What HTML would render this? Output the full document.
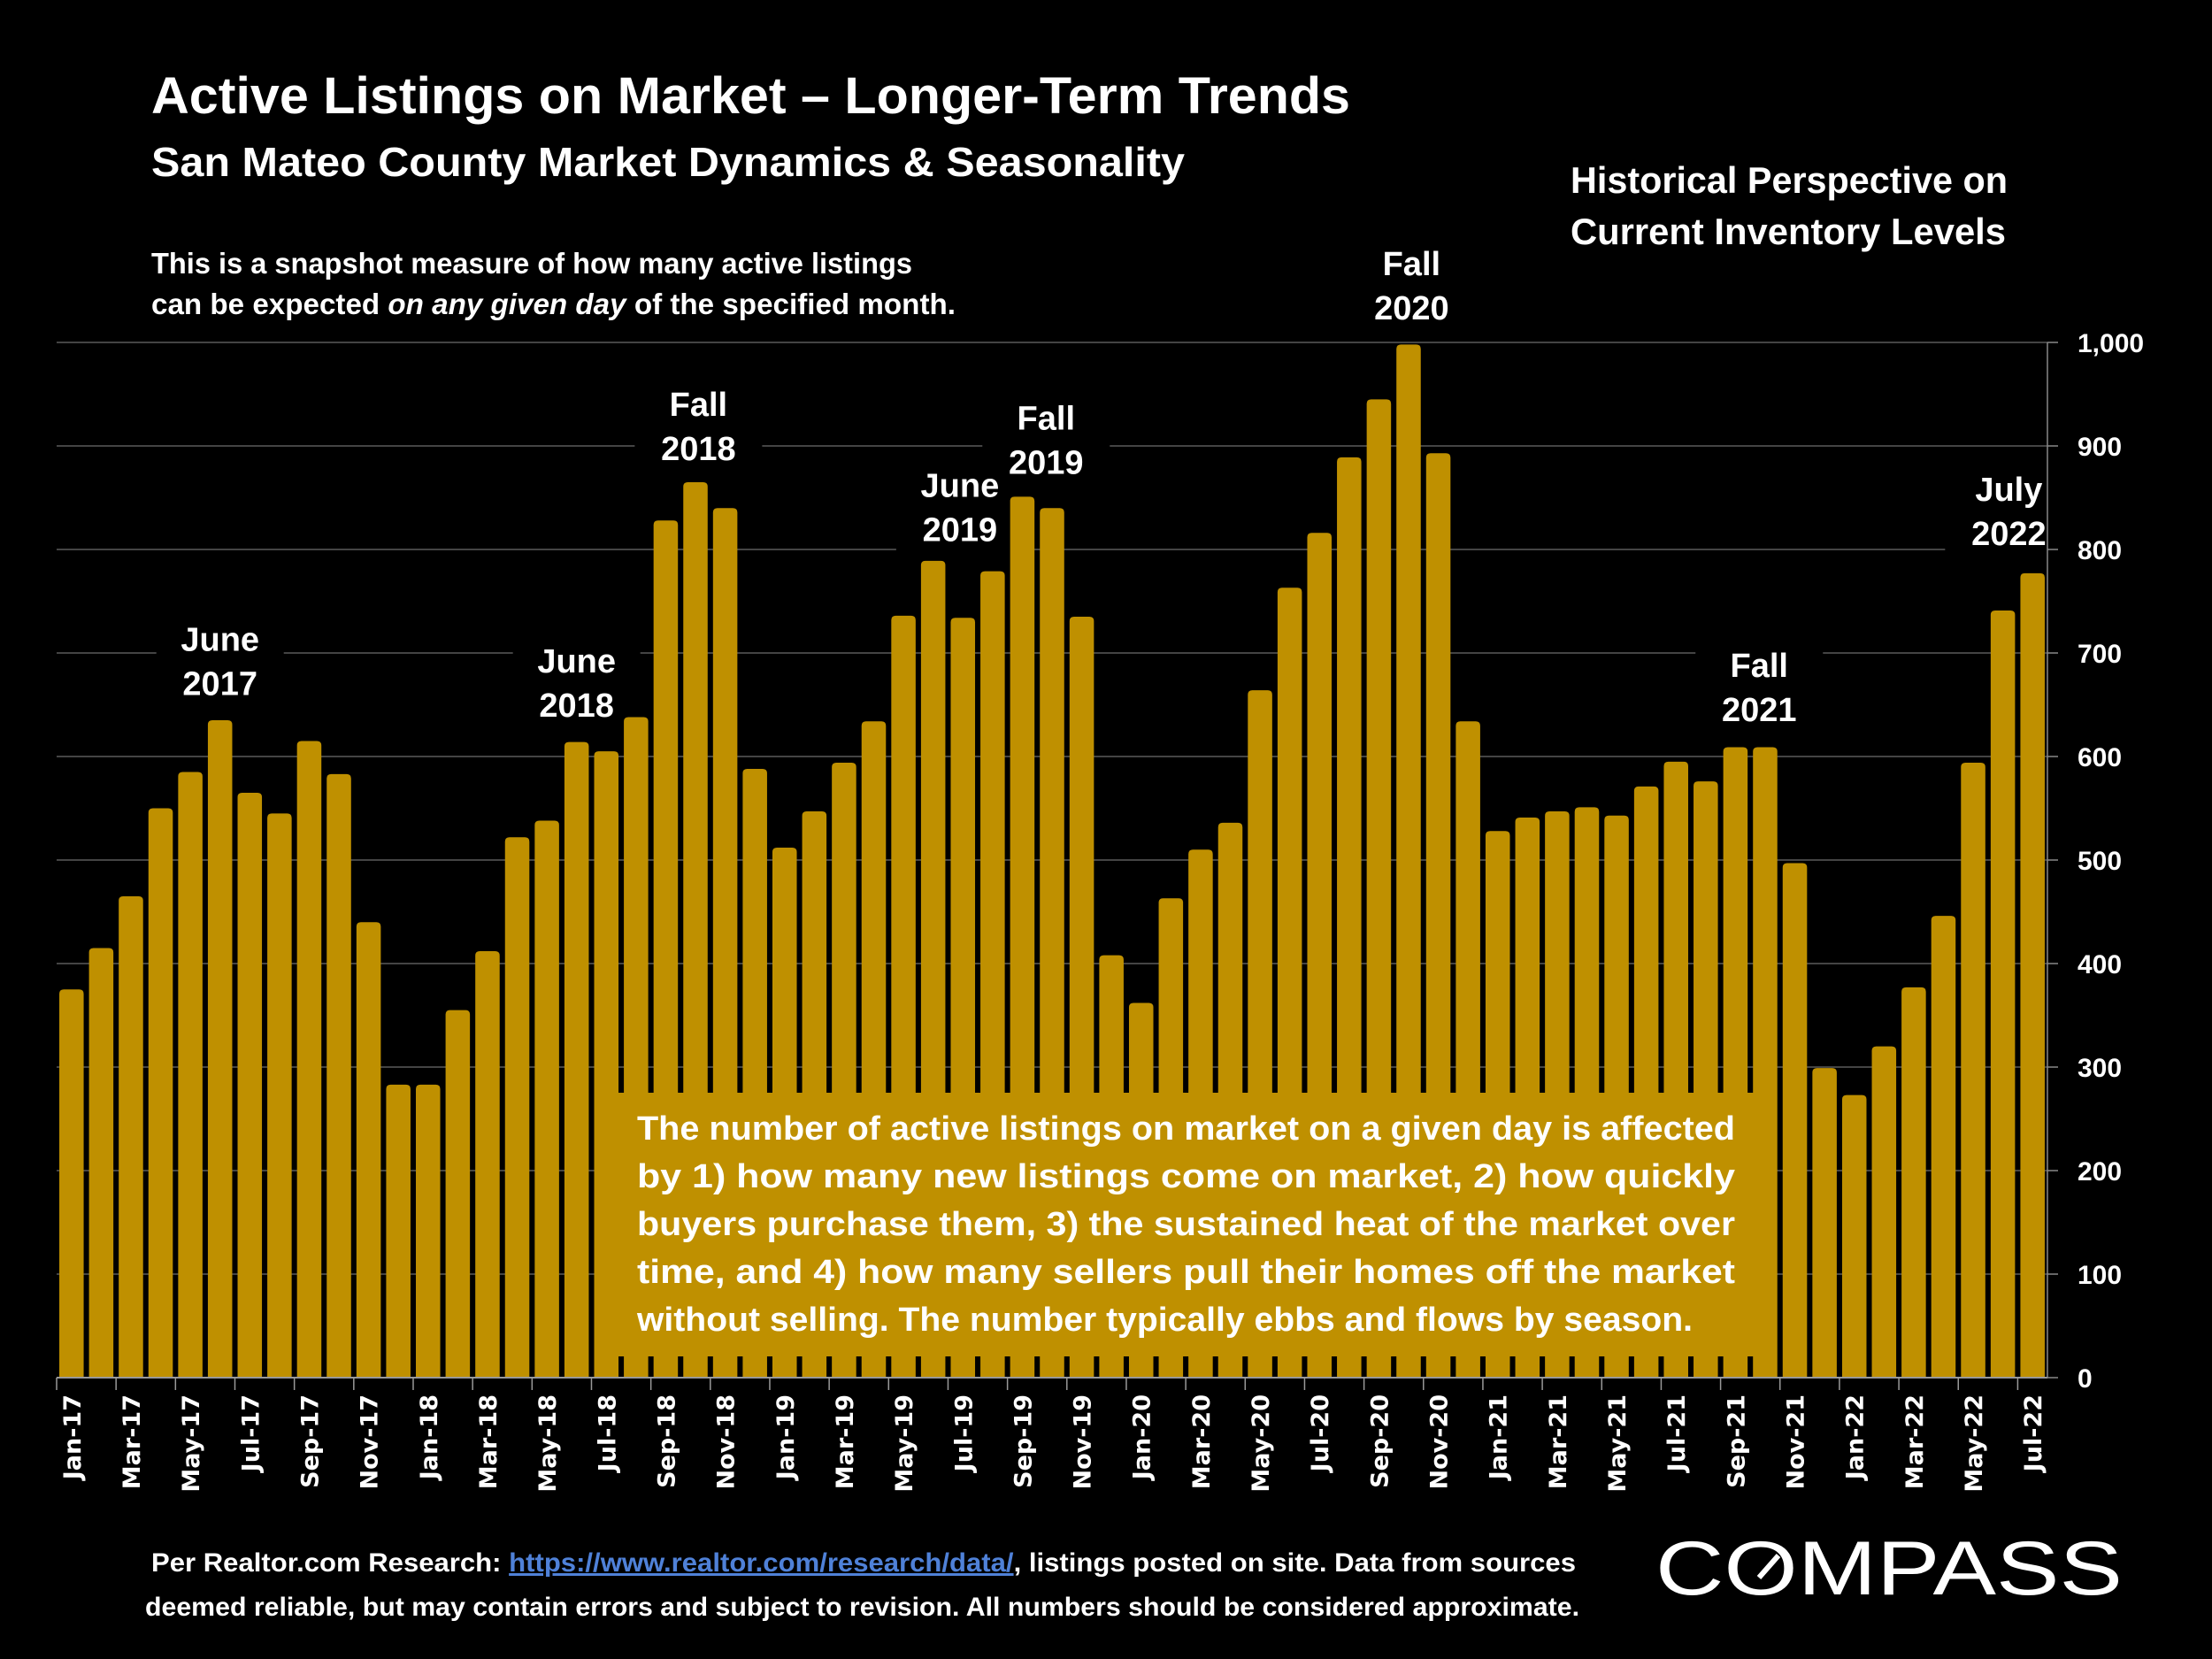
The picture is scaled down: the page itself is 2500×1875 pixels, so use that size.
<!DOCTYPE html>
<html><head><meta charset="utf-8"><style>
html,body{margin:0;padding:0;background:#000;}
svg{display:block;}
text{font-family:"Liberation Sans",sans-serif;fill:#fff;font-weight:bold;}
</style></head><body>
<svg id="chart" width="2500" height="1875" viewBox="0 0 2500 1875" xmlns="http://www.w3.org/2000/svg">
<rect width="2500" height="1875" fill="#000"/>
<g id="grid"></g>
<g id="annobg"></g>
<g id="annos"></g>
<g id="bars"></g>
<g id="axes"></g>

<text x="171" y="128" font-size="58" textLength="1355" lengthAdjust="spacingAndGlyphs">Active Listings on Market – Longer-Term Trends</text>
<text x="171" y="199" font-size="46" textLength="1168" lengthAdjust="spacingAndGlyphs">San Mateo County Market Dynamics &amp; Seasonality</text>
<text x="171" y="309" font-size="33" textLength="860" lengthAdjust="spacingAndGlyphs">This is a snapshot measure of how many active listings</text>
<text x="171" y="355" font-size="33" textLength="909" lengthAdjust="spacingAndGlyphs">can be expected <tspan font-style="italic">on any given day</tspan> of the specified month.</text>
<text x="1775" y="218" font-size="42" textLength="494" lengthAdjust="spacingAndGlyphs">Historical Perspective on</text>
<text x="1775" y="276" font-size="42" textLength="492" lengthAdjust="spacingAndGlyphs">Current Inventory Levels</text>

<g>
<rect x="697" y="1235" width="1288" height="298" fill="#BF9000"/>
<text x="720" y="1288" font-size="38" textLength="1241" lengthAdjust="spacingAndGlyphs">The number of active listings on market on a given day is affected</text>
<text x="720" y="1342" font-size="38" textLength="1241" lengthAdjust="spacingAndGlyphs">by 1) how many new listings come on market, 2) how quickly</text>
<text x="720" y="1396" font-size="38" textLength="1241" lengthAdjust="spacingAndGlyphs">buyers purchase them, 3) the sustained heat of the market over</text>
<text x="720" y="1450" font-size="38" textLength="1241" lengthAdjust="spacingAndGlyphs">time, and 4) how many sellers pull their homes off the market</text>
<text x="720" y="1504" font-size="38" textLength="1193" lengthAdjust="spacingAndGlyphs">without selling. The number typically ebbs and flows by season.</text>
</g>

<text x="171" y="1776" font-size="30" textLength="1610" lengthAdjust="spacingAndGlyphs">Per Realtor.com Research:  <tspan fill="#4F81D8" text-decoration="underline">https://www.realtor.com/research/data/</tspan>, listings posted on site. Data from sources</text>
<text x="164" y="1826" font-size="30" textLength="1621" lengthAdjust="spacingAndGlyphs">deemed reliable, but may contain errors and subject to revision. All numbers should be considered approximate.</text>
<text x="1871" y="1802" font-size="86" style="font-weight:normal" textLength="528" lengthAdjust="spacingAndGlyphs">COMPASS</text>
<line x1="1988" y1="1783" x2="2010" y2="1758" stroke="#fff" stroke-width="6"/>
</svg>
<script>
const categories = ["Jan-17","Feb-17","Mar-17","Apr-17","May-17","Jun-17","Jul-17","Aug-17","Sep-17","Oct-17","Nov-17","Dec-17",
"Jan-18","Feb-18","Mar-18","Apr-18","May-18","Jun-18","Jul-18","Aug-18","Sep-18","Oct-18","Nov-18","Dec-18",
"Jan-19","Feb-19","Mar-19","Apr-19","May-19","Jun-19","Jul-19","Aug-19","Sep-19","Oct-19","Nov-19","Dec-19",
"Jan-20","Feb-20","Mar-20","Apr-20","May-20","Jun-20","Jul-20","Aug-20","Sep-20","Oct-20","Nov-20","Dec-20",
"Jan-21","Feb-21","Mar-21","Apr-21","May-21","Jun-21","Jul-21","Aug-21","Sep-21","Oct-21","Nov-21","Dec-21",
"Jan-22","Feb-22","Mar-22","Apr-22","May-22","Jun-22","Jul-22"];
const listings = [375,415,465,550,585,635,565,545,615,583,440,283,
283,355,412,522,538,614,605,638,828,865,840,588,
512,547,594,634,736,789,734,779,851,840,735,408,
362,463,510,536,664,763,816,889,945,998,893,634,
528,541,547,551,543,571,595,576,609,609,497,299,
273,320,377,446,594,741,777];
const yTicks = [0,100,200,300,400,500,600,700,800,900,1000];
const yTickLabels = ["0","100","200","300","400","500","600","700","800","900","1,000"];
const annoLabels = [["June","2017"],["June","2018"],["Fall","2018"],["June","2019"],["Fall","2019"],["Fall","2020"],["Fall","2021"],["July","2022"]];
const annoIndex = [5,17,21.1,29.9,32.8,45.1,56.8,65.2];
const annoValues = [702,681,929,851,916,1065,677,847];

const NS="http://www.w3.org/2000/svg";
const X0=64, X1=2314, Y0=1557, Y1=387;
const step=(X1-X0)/categories.length;
const xScale=i=>X0+step*i;
const yScale=v=>Y0-(v/1000)*(Y0-Y1);
function mk(tag,attrs,parent){const e=document.createElementNS(NS,tag);for(const k in attrs)e.setAttribute(k,attrs[k]);parent.appendChild(e);return e;}
const grid=document.getElementById('grid'),bars=document.getElementById('bars'),axes=document.getElementById('axes'),annos=document.getElementById('annos'),annobg=document.getElementById('annobg');

yTicks.forEach((t,i)=>{
  const y=yScale(t);
  if(t>0){const g=mk('line',{x1:X0,x2:X1,y1:y,y2:y,stroke:'#5a5a5a','stroke-width':1.5},grid);
  
  }
  const tk=mk('line',{x1:X1,x2:X1+12,y1:y,y2:y,stroke:'#888','stroke-width':1.5},axes);
  
  
  const lb=mk('text',{x:2348,y:y+11,'font-size':30},axes);
  lb.textContent=yTickLabels[i];
  
  
});

const bw=step*0.82;
listings.forEach((v,i)=>{
  const x=xScale(i)+(step-bw)/2, y=yScale(v);
  const p=mk('path',{d:`M${x},${Y0}V${y+5}Q${x},${y} ${x+5},${y}H${x+bw-5}Q${x+bw},${y} ${x+bw},${y+5}V${Y0}Z`,fill:'#BF9000'},bars);
  
  
});

mk('line',{x1:X0,x2:X1,y1:Y0,y2:Y0,stroke:'#999','stroke-width':2},axes);
mk('line',{x1:X1,x2:X1,y1:Y1,y2:Y0,stroke:'#888','stroke-width':1.5},axes);
categories.forEach((c,i)=>{
  if(i%2===0){
    const x=xScale(i);
    const tk=mk('line',{x1:x,x2:x,y1:Y0,y2:Y0+14,stroke:'#999','stroke-width':1.5},axes);
    
    
    const cx=x+step/2;
    const t=mk('text',{x:0,y:0,'font-size':27,'text-anchor':'end',transform:`translate(${cx+10},1576) rotate(-90)`,style:'font-family:"DejaVu Sans",sans-serif'},axes);
    t.textContent=c;
    
    
  }
});

annoLabels.forEach((lines,k)=>{
  const cx=xScale(annoIndex[k])+step/2;
  const yb=yScale(annoValues[k]);
  const bg=mk('rect',{x:cx-72,y:yb-40,width:144,height:106,fill:'#000'},annobg);
  
  
  lines.forEach((s,j)=>{
    const t=mk('text',{x:cx,y:yb+j*50,'font-size':38,'text-anchor':'middle'},annos);
    t.textContent=s;
    
    
  });
});
</script>
</body></html>
